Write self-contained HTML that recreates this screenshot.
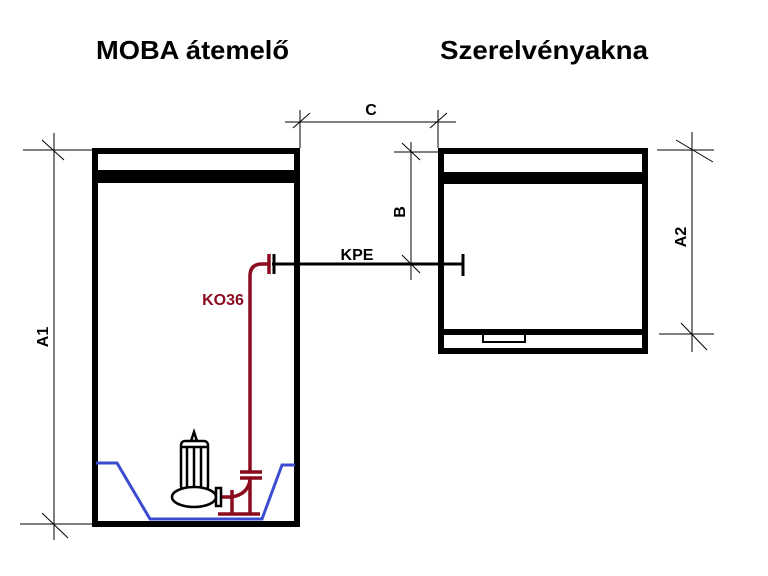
<!DOCTYPE html>
<html><head><meta charset="utf-8"><style>
html,body{margin:0;padding:0;background:#fff;}
svg{display:block;}
text{font-family:"Liberation Sans",Arial,sans-serif;font-weight:bold;}
</style></head><body>
<svg width="768" height="576" viewBox="0 0 768 576" xmlns="http://www.w3.org/2000/svg">
<rect width="768" height="576" fill="#fff"/>
<text x="96" y="59" font-size="26" fill="#000" textLength="193" lengthAdjust="spacingAndGlyphs">MOBA átemelő</text>
<text x="440" y="59" font-size="26" fill="#000" textLength="208" lengthAdjust="spacingAndGlyphs">Szerelvényakna</text>

<!-- left box -->
<g fill="#000">
<rect x="92" y="148" width="208" height="6"/>
<rect x="92" y="170" width="208" height="13"/>
<rect x="92" y="148" width="6" height="379"/>
<rect x="294" y="148" width="6" height="379"/>
<rect x="92" y="521" width="208" height="6"/>
</g>
<!-- right box -->
<g fill="#000">
<rect x="438" y="148" width="210" height="6"/>
<rect x="438" y="172" width="210" height="12"/>
<rect x="438" y="148" width="6" height="206"/>
<rect x="642" y="148" width="6" height="206"/>
<rect x="438" y="329" width="210" height="6"/>
<rect x="438" y="348" width="210" height="6"/>
</g>
<rect x="483" y="334" width="42" height="8" fill="none" stroke="#000" stroke-width="2"/>

<!-- dimension lines -->
<g stroke="#000" stroke-width="1" fill="none">
<line x1="54" y1="133" x2="54" y2="540"/>
<line x1="23" y1="150" x2="92" y2="150"/>
<line x1="20" y1="524" x2="92" y2="524"/>
<line x1="42" y1="140" x2="64" y2="160"/>
<line x1="42" y1="513" x2="68" y2="538"/>

<line x1="285" y1="122" x2="456" y2="122"/>
<line x1="300" y1="110" x2="300" y2="148"/>
<line x1="438" y1="110" x2="438" y2="148"/>
<line x1="293" y1="128" x2="310" y2="113"/>
<line x1="430" y1="128" x2="447" y2="113"/>

<line x1="411" y1="142" x2="411" y2="280"/>
<line x1="394" y1="152" x2="438" y2="152"/>
<line x1="402" y1="143" x2="420" y2="160"/>
<line x1="402" y1="255" x2="420" y2="273"/>

<line x1="692" y1="132" x2="692" y2="352"/>
<line x1="657" y1="150" x2="714" y2="150"/>
<line x1="659" y1="334" x2="714" y2="334"/>
<line x1="676" y1="140" x2="713" y2="162"/>
<line x1="681" y1="323" x2="707" y2="350"/>
</g>
<text x="371" y="115" font-size="16" text-anchor="middle">C</text>
<text transform="translate(405,212) rotate(-90)" font-size="16" text-anchor="middle">B</text>
<text transform="translate(686,237) rotate(-90)" font-size="16" text-anchor="middle">A2</text>
<text transform="translate(48,337) rotate(-90)" font-size="16" text-anchor="middle">A1</text>

<!-- KPE pipe -->
<line x1="272" y1="264" x2="463" y2="264" stroke="#000" stroke-width="3"/>
<line x1="463" y1="254" x2="463" y2="276" stroke="#000" stroke-width="3"/>
<line x1="274" y1="254" x2="274" y2="274" stroke="#000" stroke-width="3"/>
<text x="357" y="260" font-size="16" text-anchor="middle">KPE</text>

<!-- red pipe -->
<g stroke="#8b0b1e" fill="none" stroke-width="3.5">
<path d="M250 472 L250 276 Q250 264 262 264 L270 264"/>
<line x1="269" y1="254" x2="269" y2="274"/>
<line x1="250" y1="478" x2="250" y2="514"/>
<line x1="240" y1="472" x2="262" y2="472"/>
<line x1="240" y1="478" x2="262" y2="478"/>
<path d="M222 497 L232 497 Q248 494 250 480"/>
<line x1="232" y1="490" x2="232" y2="514"/>
<line x1="218" y1="514" x2="260" y2="514"/>
</g>
<text x="223" y="305" font-size="16" fill="#8b0b1e" text-anchor="middle">KO36</text>

<!-- blue sump -->
<polyline points="96,463 117,463 150,519 262,519 282,465 295,465" fill="none" stroke="#3b4cd0" stroke-width="3"/>

<!-- pump -->
<g stroke="#000" stroke-width="2.5" fill="#fff">
<path d="M191 441 L194 432 L197 441 Z"/>
<rect x="181" y="441" width="27" height="49" rx="4"/>
<line x1="187" y1="447" x2="187" y2="488"/>
<line x1="194" y1="447" x2="194" y2="488"/>
<line x1="201" y1="447" x2="201" y2="488"/>
<line x1="181" y1="447" x2="208" y2="447"/>
<ellipse cx="194" cy="497" rx="22" ry="10"/>
<rect x="216" y="488" width="5" height="18"/>
</g>
</svg>
</body></html>
